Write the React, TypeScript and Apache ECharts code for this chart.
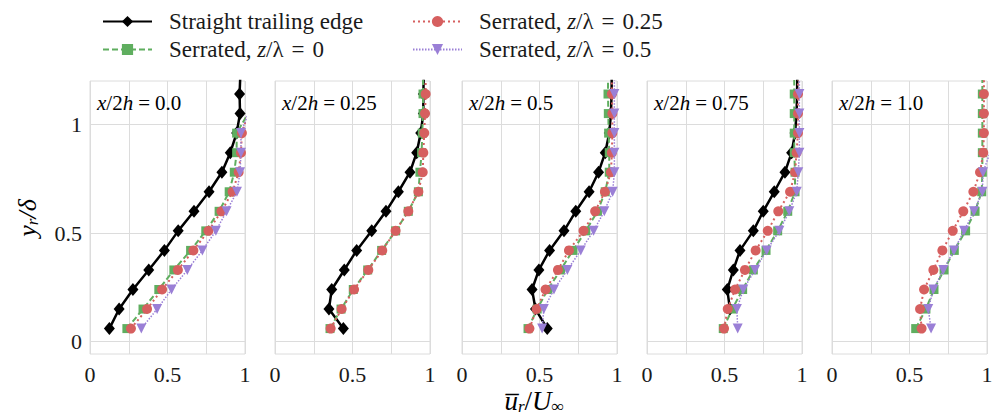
import React, { useEffect, useRef } from 'react';
import * as echarts from 'echarts';

// ---------- data ----------
const yr = [0.06, 0.15, 0.24, 0.33, 0.42, 0.51, 0.6, 0.69, 0.78, 0.87, 0.96, 1.05, 1.14, 1.23];
const panelLabels = ['0.0', '0.25', '0.5', '0.75', '1.0'];
const xTickLabels = ['0', '0.5', '1'];
const yTickLabels = ['0', '0.5', '1'];

const straightTE = [
  [0.125, 0.188, 0.277, 0.379, 0.48, 0.569, 0.671, 0.768, 0.851, 0.905, 0.946, 0.968, 0.965, 0.97],
  [0.441, 0.348, 0.366, 0.447, 0.527, 0.624, 0.716, 0.796, 0.871, 0.914, 0.94, 0.957, 0.957, 0.96],
  [0.55, 0.474, 0.452, 0.496, 0.565, 0.658, 0.734, 0.82, 0.881, 0.924, 0.95, 0.961, 0.965, 0.966],
  [null, 0.535, 0.518, 0.557, 0.6, 0.686, 0.75, 0.821, 0.89, 0.933, 0.955, 0.965, 0.968, 0.97],
  null,
];
const serrated0 = [
  [0.238, 0.342, 0.444, 0.541, 0.649, 0.747, 0.833, 0.898, 0.931, 0.946, 0.946, 1.02, 1.02, 1.02],
  [0.355, 0.426, 0.505, 0.598, 0.688, 0.778, 0.86, 0.925, 0.935, 0.946, 0.95, 0.955, 0.955, 0.955],
  [0.426, 0.485, 0.554, 0.636, 0.716, 0.799, 0.874, 0.924, 0.95, 0.95, 0.946, 0.944, 0.942, 0.942],
  [0.492, 0.55, 0.617, 0.686, 0.768, 0.843, 0.908, 0.955, 0.955, 0.95, 0.95, 0.95, 0.95, 0.95],
  [0.54, 0.606, 0.658, 0.723, 0.789, 0.862, 0.923, 0.966, 0.97, 0.97, 0.97, 0.97, 0.97, 0.97],
];
const serrated025 = [
  [0.264, 0.368, 0.465, 0.567, 0.667, 0.764, 0.848, 0.92, 0.959, 0.974, 0.98, 1.02, 1.02, 1.02],
  [0.359, 0.43, 0.51, 0.602, 0.692, 0.778, 0.86, 0.925, 0.953, 0.957, 0.963, 0.968, 0.972, 0.972],
  [0.435, 0.481, 0.539, 0.619, 0.69, 0.784, 0.859, 0.922, 0.961, 0.967, 0.97, 0.97, 0.967, 0.967],
  [0.497, 0.521, 0.568, 0.632, 0.701, 0.779, 0.847, 0.923, 0.955, 0.965, 0.974, 0.974, 0.974, 0.974],
  [0.578, 0.568, 0.594, 0.654, 0.712, 0.779, 0.847, 0.912, 0.955, 0.976, 0.98, 0.98, 0.98, 0.98],
];
const serrated05 = [
  [0.331, 0.433, 0.526, 0.628, 0.725, 0.812, 0.881, 0.948, 0.968, 0.974, 0.974, 1.02, 1.02, 1.02],
  null,
  [0.517, 0.528, 0.593, 0.68, 0.766, 0.849, 0.918, 0.972, 0.983, 0.983, 0.983, 0.983, 0.983, 0.983],
  [0.585, 0.58, 0.621, 0.697, 0.772, 0.854, 0.918, 0.966, 0.976, 0.983, 0.983, 0.983, 0.983, 0.983],
  [0.639, 0.621, 0.654, 0.718, 0.787, 0.852, 0.916, 0.97, 0.974, 1.02, 1.02, 1.02, 1.02, 1.02],
];

const names = [
  'Straight trailing edge',
  'Serrated, z/λ = 0',
  'Serrated, z/λ = 0.25',
  'Serrated, z/λ = 0.5',
];
const legendRich: Record<string, string> = {
  'Straight trailing edge': '{n|Straight trailing edge}',
  'Serrated, z/λ = 0': '{n|Serrated, }{i|z}{n|/λ}{e|=}{n|0}',
  'Serrated, z/λ = 0.25': '{n|Serrated, }{i|z}{n|/λ}{e|=}{n|0.25}',
  'Serrated, z/λ = 0.5': '{n|Serrated, }{i|z}{n|/λ}{e|=}{n|0.5}',
};

// ---------- layout ----------
const FONT = 'Liberation Serif';
const gridLefts = [90, 275, 462, 647, 832];
const GRID_W = 155;
const GRID_TOP = 81;
const GRID_H = 273;
const GRIDC = '#dcdcdc';
const TXT = '#1a1a1a';

const styles = [
  { color: '#000000', symbol: 'diamond', size: [11, 13], rotate: 0, type: 'solid', width: 2.5 },
  { color: '#5fae5f', symbol: 'rect', size: 9, rotate: 0, type: [6, 3], width: 2 },
  { color: '#d65f5f', symbol: 'circle', size: 10, rotate: 0, type: [2, 3], width: 2 },
  { color: '#9a7fd6', symbol: 'triangle', size: 10, rotate: 180, type: [1.5, 1.5], width: 1.5 },
];
const allData = [straightTE, serrated0, serrated025, serrated05];

const toPairs = (xs: (number | null)[]) =>
  xs.map((x, i) => (x == null ? null : [x, yr[i]])).filter((p) => p !== null);

export default function App() {
  const ref = useRef<HTMLDivElement>(null);
  useEffect(() => {
    if (!ref.current) return;
    const chart = echarts.init(ref.current, undefined, { renderer: 'svg' });

    const grids = gridLefts.map((l) => ({
      left: l,
      top: GRID_TOP,
      width: GRID_W,
      height: GRID_H,
      show: true,
      borderColor: GRIDC,
      borderWidth: 1,
      backgroundColor: 'transparent',
      containLabel: false,
    }));
    const xAxes = gridLefts.map((_, i) => ({
      type: 'value',
      gridIndex: i,
      min: 0,
      max: 1,
      interval: 0.25,
      axisLine: { show: false },
      axisTick: { show: false },
      splitLine: { show: true, lineStyle: { color: GRIDC, width: 1 } },
      axisLabel: {
        show: true,
        margin: 9,
        fontFamily: FONT,
        fontSize: 22,
        color: TXT,
        formatter: (v: number) => {
          const s = String(v);
          return xTickLabels.includes(s) ? s : '';
        },
      },
    }));
    const yAxes = gridLefts.map((_, i) => ({
      type: 'value',
      gridIndex: i,
      min: -0.057,
      max: 1.2,
      axisLine: { show: false },
      axisTick: { show: false, customValues: yTickLabels.map(Number) },
      splitLine: { show: true, lineStyle: { color: GRIDC, width: 1 } },
      axisLabel: {
        show: i === 0,
        customValues: yTickLabels.map(Number),
        margin: 8,
        fontFamily: FONT,
        fontSize: 22,
        color: TXT,
      },
    }));

    const series: any[] = [];
    for (let p = 0; p < 5; p++) {
      for (let s = 0; s < 4; s++) {
        const d = allData[s][p];
        if (!d) continue;
        const st = styles[s];
        series.push({
          type: 'line',
          name: names[s],
          xAxisIndex: p,
          yAxisIndex: p,
          data: toPairs(d),
          clip: true,
          symbol: st.symbol,
          symbolSize: st.size,
          symbolRotate: st.rotate,
          showSymbol: true,
          lineStyle: { color: st.color, width: st.width, type: st.type },
          itemStyle: { color: st.color, borderWidth: 0 },
          z: 2 + s,
        });
      }
    }

    const richText = {
      n: { fontFamily: FONT, fontSize: 23, color: TXT, lineHeight: 26 },
      i: { fontFamily: FONT, fontSize: 23, fontStyle: 'italic', color: TXT, lineHeight: 26 },
      e: { fontFamily: FONT, fontSize: 23, color: TXT, lineHeight: 26, padding: [0, 8, 0, 8] },
    };
    const legendCommon = {
      orient: 'vertical',
      align: 'left',
      itemWidth: 49,
      itemHeight: 14,
      itemGap: 5,
      top: 5,
      selectedMode: false,
      formatter: (name: string) => legendRich[name],
      textStyle: { fontFamily: FONT, fontSize: 23, color: TXT, padding: [0, 0, 0, 12], rich: richText },
    };

    const labelRich = {
      n: { fontFamily: FONT, fontSize: 21, color: TXT },
      i: { fontFamily: FONT, fontSize: 21, fontStyle: 'italic', color: TXT },
      e: { fontFamily: FONT, fontSize: 21, color: TXT, padding: [0, 5, 0, 5] },
    };
    const graphics: any[] = gridLefts.map((l, i) => ({
      type: 'text',
      left: l + 7,
      top: 92,
      z: 10,
      style: {
        text: `{i|x}{n|/2}{i|h}{e|=}{n|${panelLabels[i]}}`,
        fontFamily: FONT,
        fontSize: 21,
        rich: labelRich,
      },
    }));
    graphics.push({
      type: 'text',
      x: 27,
      y: 218,
      rotation: Math.PI / 2,
      style: {
        text: '{i|y}{s|r}{i|/δ}',
        align: 'center',
        verticalAlign: 'middle',
        rich: {
          i: { fontFamily: FONT, fontSize: 26, fontStyle: 'italic', color: TXT, lineHeight: 28 },
          s: { fontFamily: FONT, fontSize: 17, fontStyle: 'italic', color: TXT, lineHeight: 14, verticalAlign: 'bottom' },
        },
      },
    });
    graphics.push({
      type: 'text',
      x: 534,
      y: 401,
      style: {
        text: '{i|u\u0305}{s|r}{n|/}{i|U}{s|∞}',
        align: 'center',
        verticalAlign: 'middle',
        rich: {
          i: { fontFamily: FONT, fontSize: 27, fontStyle: 'italic', color: TXT, lineHeight: 28 },
          n: { fontFamily: FONT, fontSize: 27, color: TXT, lineHeight: 28 },
          s: { fontFamily: FONT, fontSize: 17, fontStyle: 'italic', color: TXT, lineHeight: 14, verticalAlign: 'bottom' },
        },
      },
    });

    chart.setOption({
      animation: false,
      backgroundColor: '#ffffff',
      grid: grids,
      xAxis: xAxes,
      yAxis: yAxes,
      series,
      legend: [
        { ...legendCommon, left: 97, data: [names[0], names[1]] },
        { ...legendCommon, left: 407, data: [names[2], names[3]] },
      ],
      graphic: graphics,
    });
    return () => chart.dispose();
  }, []);
  return (
    <div
      ref={ref}
      style={{ position: 'absolute', left: 0, top: 0, width: 1003, height: 418 }}
    />
  );
}
